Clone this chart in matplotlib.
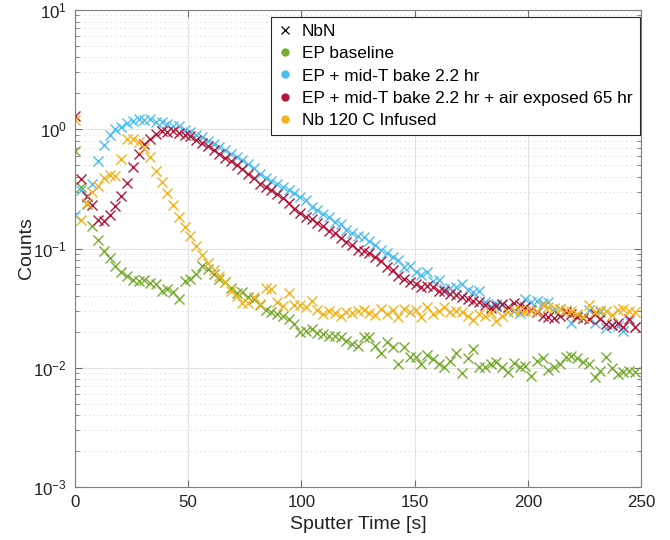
import numpy as np
import matplotlib
matplotlib.use('Agg')
import matplotlib.pyplot as plt
from matplotlib.lines import Line2D
from matplotlib.ticker import LogLocator, NullFormatter, MultipleLocator

plt.rcParams['font.family'] = ['Liberation Sans', 'DejaVu Sans']
plt.rcParams['mathtext.fontset'] = 'custom'
plt.rcParams['mathtext.rm'] = 'Liberation Sans'
plt.rcParams['mathtext.it'] = 'Liberation Sans:italic'
plt.rcParams['mathtext.default'] = 'regular'

# sputter time grid (s)
n_pts = 98
time_step = 2.55
t = np.arange(n_pts) * time_step

ep_baseline = [0.66, 0.33, 0.235, 0.155, 0.117, 0.096, 0.084, 0.072, 0.063, 0.059,
    0.054, 0.053, 0.054, 0.051, 0.050, 0.044, 0.046, 0.043, 0.038, 0.053,
    0.055, 0.061, 0.072, 0.0675, 0.061, 0.056, 0.052, 0.047, 0.042, 0.043,
    0.039, 0.038, 0.0338, 0.0305, 0.0292, 0.0283, 0.0274, 0.0257, 0.0233, 0.0198,
    0.0205, 0.0212, 0.0194, 0.0192, 0.0186, 0.0186, 0.018, 0.0169, 0.0158, 0.0153,
    0.018, 0.018, 0.0153, 0.0134, 0.0163, 0.0148, 0.0107, 0.015, 0.0122, 0.0122,
    0.0107, 0.0129, 0.0118, 0.0107, 0.0102, 0.0113, 0.0132, 0.0091, 0.012, 0.0144,
    0.0102, 0.0102, 0.0107, 0.0111, 0.0102, 0.0093, 0.0109, 0.0102, 0.0104, 0.0086,
    0.0115, 0.012, 0.0096, 0.0101, 0.0107, 0.0124, 0.0126, 0.012, 0.0111, 0.0107,
    0.0083, 0.0094, 0.0122, 0.010, 0.0089, 0.0092, 0.0094, 0.0092]

midT_bake = [0.19, 0.31, 0.27, 0.35, 0.54, 0.74, 0.90, 1.01, 1.05, 1.12,
    1.17, 1.23, 1.19, 1.21, 1.15, 1.14, 1.11, 1.07, 1.06, 0.99,
    0.95, 0.90, 0.86, 0.80, 0.75, 0.71, 0.67, 0.62, 0.59, 0.55,
    0.51, 0.47, 0.42, 0.39, 0.37, 0.345, 0.33, 0.31, 0.29, 0.27,
    0.255, 0.222, 0.21, 0.195, 0.182, 0.168, 0.16, 0.142, 0.136, 0.128,
    0.125, 0.115, 0.108, 0.098, 0.0925, 0.0845, 0.08, 0.0695, 0.071, 0.0635,
    0.0595, 0.0632, 0.0538, 0.0545, 0.0458, 0.047, 0.048, 0.0505, 0.045, 0.043,
    0.0438, 0.0354, 0.0332, 0.0343, 0.0338, 0.0321, 0.0301, 0.0286, 0.0378, 0.0354,
    0.0366, 0.0347, 0.0354, 0.0301, 0.0311, 0.0301, 0.0236, 0.0274, 0.0262, 0.0305,
    0.0236, 0.0292, 0.0216, 0.023, 0.0225, 0.0205, 0.0248, 0.0219]

midT_bake_air = [1.3, 0.38, 0.275, 0.233, 0.175, 0.169, 0.192, 0.227, 0.275, 0.356,
    0.482, 0.625, 0.759, 0.835, 0.92, 0.962, 0.95, 0.96, 0.93, 0.90,
    0.87, 0.82, 0.77, 0.72, 0.67, 0.62, 0.575, 0.54, 0.50, 0.46,
    0.425, 0.39, 0.35, 0.33, 0.31, 0.285, 0.265, 0.24, 0.215, 0.198,
    0.185, 0.176, 0.164, 0.153, 0.141, 0.134, 0.122, 0.114, 0.108, 0.098,
    0.096, 0.092, 0.0855, 0.0785, 0.0705, 0.0665, 0.0585, 0.0555, 0.052, 0.0505,
    0.0478, 0.0489, 0.0473, 0.0444, 0.0438, 0.0416, 0.041, 0.0395, 0.0378, 0.036,
    0.0354, 0.0338, 0.0318, 0.0332, 0.0343, 0.0326, 0.0347, 0.0338, 0.0321, 0.0305,
    0.0292, 0.0274, 0.0265, 0.0262, 0.0274, 0.0292, 0.0283, 0.0268, 0.0262, 0.0257,
    0.0283, 0.0257, 0.0233, 0.023, 0.0236, 0.0221, 0.0257, 0.0219]

nb_infused = [1.2, 0.172, 0.24, 0.297, 0.334, 0.39, 0.41, 0.405, 0.56, 0.824,
    0.835, 0.78, 0.70, 0.58, 0.45, 0.36, 0.29, 0.23, 0.185, 0.152,
    0.128, 0.104, 0.089, 0.076, 0.066, 0.059, 0.052, 0.0444, 0.0403, 0.0349,
    0.0349, 0.039, 0.0343, 0.0468, 0.0458, 0.0354, 0.0332, 0.0421, 0.0338, 0.0338,
    0.0321, 0.036, 0.0305, 0.0283, 0.0301, 0.0286, 0.0274, 0.0292, 0.0286, 0.0301,
    0.0305, 0.0286, 0.0279, 0.0311, 0.0283, 0.0305, 0.0265, 0.0311, 0.0292, 0.0305,
    0.0265, 0.0326, 0.0283, 0.0301, 0.0326, 0.0292, 0.0301, 0.0292, 0.0274, 0.0251,
    0.0283, 0.0274, 0.0286, 0.0245, 0.0274, 0.0292, 0.0305, 0.0305, 0.0301, 0.0301,
    0.0297, 0.0338, 0.0321, 0.0318, 0.0311, 0.0305, 0.0301, 0.0283, 0.0268, 0.0338,
    0.0292, 0.0305, 0.0301, 0.0279, 0.0305, 0.0311, 0.0301, 0.0292]

labels = ['NbN', 'EP baseline', 'EP + mid-T bake 2.2 hr',
          'EP + mid-T bake 2.2 hr + air exposed 65 hr', 'Nb 120 C Infused']
colors = ['#77AC30', '#4DBEEE', '#B5173B', '#F2B31E']
series = [ep_baseline, midT_bake, midT_bake_air, nb_infused]

fig = plt.figure(figsize=(6.7, 5.4), dpi=100)
ax = fig.add_axes([75/670, 53/540, 566/670, 477/540])

for y, c in zip(series, colors):
    ax.plot(t, y, linestyle='None', marker='x', color=c, ms=6.5, mew=1.0)

ax.set_yscale('log')
ax.set_xlim(0, 250)
ax.set_ylim(1e-3, 1e1)
ax.xaxis.set_major_locator(MultipleLocator(50))
ax.yaxis.set_major_locator(LogLocator(base=10, numticks=10))
ax.yaxis.set_minor_locator(LogLocator(base=10, subs=np.arange(2, 10), numticks=20))
ax.yaxis.set_minor_formatter(NullFormatter())

ax.grid(True, which='major', color='#E3E3E3', linewidth=0.8, linestyle='-')
ax.grid(True, which='minor', axis='y', color='#D8D8D8', linewidth=0.8, linestyle=(0, (1, 3)))
ax.set_axisbelow(True)

for s in ax.spines.values():
    s.set_color('#7F7F7F')
    s.set_linewidth(0.8)
ax.tick_params(which='both', direction='in', top=True, right=True,
               color='#6F6F6F', labelsize=12.2, labelcolor='#222222')
ax.tick_params(which='major', length=5, width=0.8, pad=6)
ax.tick_params(which='minor', length=3, width=0.6)

ax.set_xlabel('Sputter Time [s]', fontsize=14, color='#222222', labelpad=4)
ax.set_ylabel('Counts', fontsize=14, color='#222222', labelpad=-1.5)

handles = [Line2D([], [], linestyle='None', marker='x', color='black', ms=6, mew=0.9)]
for c in colors:
    handles.append(Line2D([], [], linestyle='None', marker='o', color=c, ms=5))
leg = ax.legend(handles, labels, loc='upper right',
                bbox_to_anchor=(1 - 1.5/566, 1 - 7/477),
                fontsize=12.4, frameon=True,
                fancybox=False, edgecolor='#262626', framealpha=1,
                borderaxespad=0.0, handlelength=0.8, handletextpad=0.6,
                labelspacing=0.42, borderpad=0.4)
leg.get_frame().set_linewidth(0.8)

fig.savefig('out.png', dpi=100)
